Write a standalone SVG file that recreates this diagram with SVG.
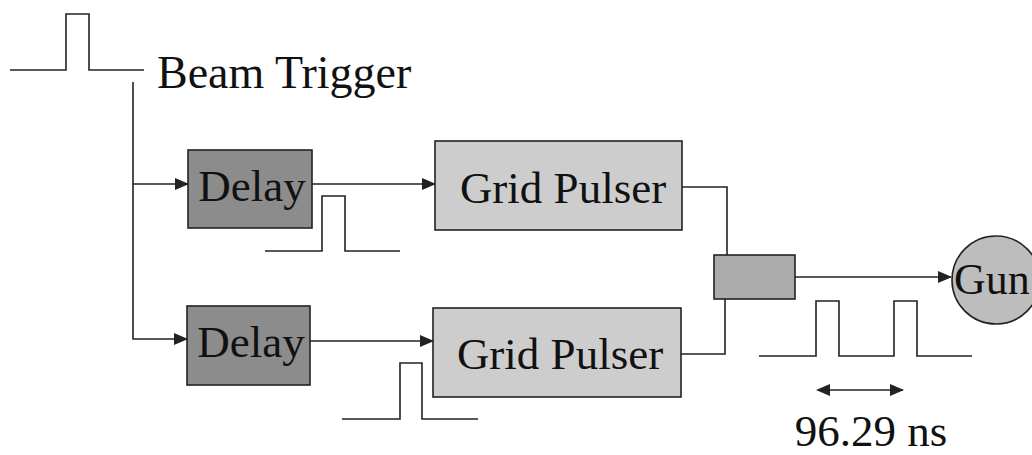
<svg xmlns="http://www.w3.org/2000/svg" width="1032" height="455" viewBox="0 0 1032 455">
<style>
.ln{fill:none;stroke:#222;stroke-width:1.6}
.box{stroke:#222;stroke-width:1.6}
.t{font-family:"Liberation Serif","Times New Roman",serif;fill:#111}
</style>
<defs>
<marker id="ah" markerWidth="14" markerHeight="12" refX="13" refY="6" orient="auto" markerUnits="userSpaceOnUse">
<path d="M0,0 L14,6 L0,12 Z" fill="#222"/>
</marker>
<marker id="ahs" markerWidth="14" markerHeight="12" refX="1" refY="6" orient="auto-start-reverse" markerUnits="userSpaceOnUse">
<path d="M0,0 L14,6 L0,12 Z" fill="#222"/>
</marker>
</defs>
<rect width="1032" height="455" fill="#fff"/>
<g id="waveforms">
<path class="ln" d="M10,70 H66 V14 H89 V70 H144"/>
<path class="ln" d="M265,251 H322 V196 H345 V251 H400"/>
<path class="ln" d="M342,419 H400 V363 H422 V419 H478"/>
<path class="ln" d="M759,356 H816 V301 H839 V356 H894 V301 H917 V356 H972"/>
</g>
<g id="connectors">
<path class="ln" d="M133,82 V339 H187" marker-end="url(#ah)"/>
<path class="ln" d="M133,184 H188" marker-end="url(#ah)"/>
<path class="ln" d="M312,184 H435" marker-end="url(#ah)"/>
<path class="ln" d="M310,341 H433" marker-end="url(#ah)"/>
<path class="ln" d="M682,187 H727 V255"/>
<path class="ln" d="M681,354 H725 V299"/>
<path class="ln" d="M795,277 H951" marker-end="url(#ah)"/>
<path class="ln" d="M829,390 H903" marker-start="url(#ahs)" marker-end="url(#ah)"/>
</g>
<g id="beam-trigger">
<text class="t" x="157" y="88" font-size="46">Beam Trigger</text>
</g>
<g id="delay1">
<rect class="box" x="188" y="150" width="124" height="78" fill="#8c8c8c"/>
<text class="t" x="252" y="201" font-size="45" text-anchor="middle">Delay</text>
</g>
<g id="delay2">
<rect class="box" x="187" y="306" width="123" height="79" fill="#8c8c8c"/>
<text class="t" x="251" y="357" font-size="45" text-anchor="middle">Delay</text>
</g>
<g id="grid-pulser1">
<rect class="box" x="435" y="141" width="247" height="89" fill="#cdcdcd"/>
<text class="t" x="563" y="203" font-size="45" text-anchor="middle">Grid Pulser</text>
</g>
<g id="grid-pulser2">
<rect class="box" x="433" y="308" width="248" height="89" fill="#cdcdcd"/>
<text class="t" x="560" y="369" font-size="45" text-anchor="middle">Grid Pulser</text>
</g>
<g id="combiner">
<rect class="box" x="714" y="255" width="81" height="44" fill="#ababab"/>
</g>
<g id="gun">
<circle class="box" cx="996" cy="280" r="44" fill="#bdbdbd"/>
<text class="t" x="954" y="294" font-size="44">Gun</text>
</g>
<g id="period-label">
<text class="t" x="871" y="446" font-size="45" text-anchor="middle">96.29 ns</text>
</g>
</svg>
